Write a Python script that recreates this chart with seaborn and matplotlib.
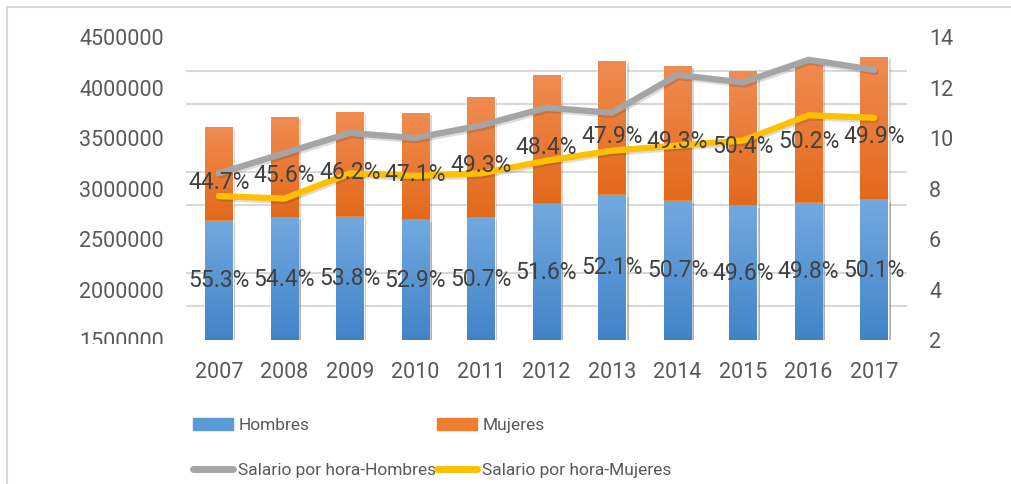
import numpy as np
import pandas as pd
import seaborn as sns
import matplotlib.pyplot as plt
from matplotlib.patches import Rectangle, Patch
from matplotlib.lines import Line2D
from matplotlib.ticker import FuncFormatter
from matplotlib.colors import LinearSegmentedColormap
from matplotlib.transforms import Bbox, TransformedBbox
import matplotlib.patheffects as pe

# datos
years = ['2007', '2008', '2009', '2010', '2011', '2012', '2013', '2014', '2015', '2016', '2017']
hombres = [2678000, 2708000, 2718000, 2688000, 2708000, 2846000, 2936000, 2876000, 2827000, 2856000, 2886000]
mujeres = [931000, 1000000, 1039000, 1060000, 1198000, 1278000, 1326000, 1337000, 1336000, 1387000, 1416000]
pct_h = ['55.3%', '54.4%', '53.8%', '52.9%', '50.7%', '51.6%', '52.1%', '50.7%', '49.6%', '49.8%', '50.1%']
pct_m = ['44.7%', '45.6%', '46.2%', '47.1%', '49.3%', '48.4%', '47.9%', '49.3%', '50.4%', '50.2%', '49.9%']
sal_h = [8.6, 9.4, 10.2, 10.0, 10.5, 11.2, 11.0, 12.5, 12.2, 13.1, 12.7]
sal_m = [7.7, 7.6, 8.6, 8.5, 8.6, 9.1, 9.5, 9.7, 9.9, 10.9, 10.8]

df = pd.DataFrame({'year': years, 'hombres': hombres, 'mujeres': mujeres})
df['total'] = df['hombres'] + df['mujeres']

sns.set_theme(style='white')
plt.rcParams['font.family'] = ['Roboto', 'DejaVu Sans']

c_blue = '#5B9BD5'
c_orange = '#ED7D31'
c_gray = '#A5A5A5'
c_yellow = '#FFC000'
txt = '#595959'

fig = plt.figure(figsize=(10.11, 4.84), dpi=100)
ax = fig.add_axes([0.184, 0.2975, 0.713, 0.626])

sns.barplot(data=df, x='year', y='total', color=c_orange, saturation=1, width=0.42, ax=ax, zorder=2)
n_or = len(ax.patches)
sns.barplot(data=df, x='year', y='hombres', color=c_blue, saturation=1, width=0.42, ax=ax, zorder=3)

ax.set_ylim(1500000, 4500000)
ax.set_xlim(-0.5, 10.5)

# degradado tipo Excel en cada segmento
grad = np.linspace(0, 1, 256).reshape(-1, 1)
cm_or = LinearSegmentedColormap.from_list('or', ['#F08C52', '#E3691A'])
cm_bl = LinearSegmentedColormap.from_list('bl', ['#72A9DF', '#4283C8'])
shadow = [pe.SimplePatchShadow(offset=(2, -1.5), alpha=0.2), pe.Normal()]
for k, p in enumerate(list(ax.patches)):
    p.set_path_effects(shadow)
    x0, w = p.get_x(), p.get_width()
    y0 = max(p.get_y(), 1500000)
    y1 = p.get_y() + p.get_height()
    if k < n_or:
        y0 = hombres[k]
    cmap, z = (cm_or, 2.5) if k < n_or else (cm_bl, 3.5)
    im = ax.imshow(grad, cmap=cmap, aspect='auto', extent=(x0, x0 + w, y0, y1),
                   origin='upper', zorder=z, interpolation='bilinear')
    im.set_clip_path(p)
ax.set_ylim(1500000, 4500000)
ax.set_xlim(-0.5, 10.5)

ax.set_yticks(np.arange(1500000, 4500001, 500000))
ax.set_yticks(np.linspace(1500000, 4500000, 10), minor=True)
ax.yaxis.set_major_formatter(FuncFormatter(lambda v, p: f'{v:.0f}'))
ax.grid(False)
ax.grid(True, which='minor', axis='y', color='#d9d9d9', lw=1.5, zorder=0)
ax.set_axisbelow(True)
ax.set_xlabel('')
ax.set_ylabel('')
ax.tick_params(axis='both', which='both', length=0, labelsize=15.5, colors=txt, pad=16)
sns.despine(ax=ax, left=True, bottom=True)

ax2 = ax.twinx()
sns.pointplot(x=years, y=sal_h, ax=ax2, color=c_gray, markers='', linewidth=4.5)
sns.pointplot(x=years, y=sal_m, ax=ax2, color=c_yellow, markers='', linewidth=4.5)
for ln in ax2.lines:
    ln.set_solid_joinstyle('miter')
    ln.set_path_effects([pe.SimpleLineShadow(offset=(1, -1.5), alpha=0.15), pe.Normal()])
ax2.set_ylim(2, 14)
ax2.set_yticks(range(2, 15, 2))
ax2.set_xlim(-0.5, 10.5)
ax2.grid(False)
ax2.tick_params(axis='y', length=0, labelsize=15.5, colors=txt, pad=16)
for s in ax2.spines.values():
    s.set_visible(False)

# etiquetas de porcentaje
for i in range(len(years)):
    ax2.annotate(pct_h[i], xy=(i, (1500000 + hombres[i]) / 2), xycoords=ax.transData,
                 ha='center', va='center', fontsize=16.5, color='#404040', zorder=10)
    ax2.annotate(pct_m[i], xy=(i, hombres[i] + mujeres[i] / 2), xycoords=ax.transData,
                 xytext=(0, -6), textcoords='offset points',
                 ha='center', va='center', fontsize=16.5, color='#404040', zorder=10)

# leyenda
handles = [Patch(color=c_blue), Line2D([], [], color=c_gray, lw=5),
           Patch(color=c_orange), Line2D([], [], color=c_yellow, lw=5)]
labels = ['Hombres', 'Salario por hora-Hombres', 'Mujeres', 'Salario por hora-Mujeres']
fig.legend(handles, labels, loc='center left', bbox_to_anchor=(0.191, 0.0745), ncol=2,
           frameon=False, fontsize=12.5, handlelength=2.3, handleheight=0.75, handletextpad=0.3,
           columnspacing=0.05, labelspacing=1.7, borderpad=0, borderaxespad=0, labelcolor=txt)

fig.add_artist(Rectangle((7 / 1011, -0.1), 1.1, 1.1 - 7 / 484, transform=fig.transFigure,
                         fill=False, ec='#d9d9d9', lw=1.5, clip_on=False))

fig.canvas.draw()
lab = ax.yaxis.get_major_ticks()[0].label1
lab.set_clip_box(TransformedBbox(Bbox([[0, 140 / 484], [1, 1]]), fig.transFigure))
lab.set_clip_on(True)

fig.savefig('out.png', dpi=100)
